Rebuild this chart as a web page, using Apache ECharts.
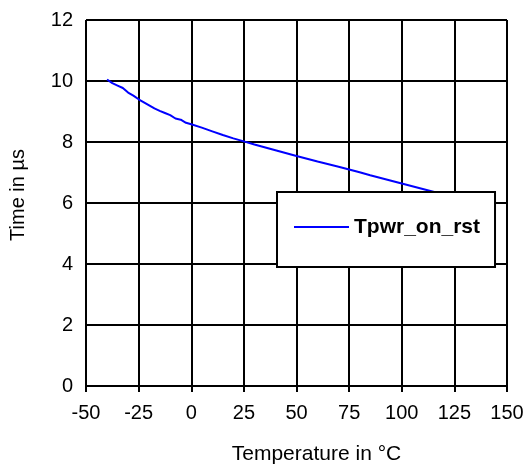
<!DOCTYPE html>
<html>
<head>
<meta charset="utf-8">
<script src="https://cdn.jsdelivr.net/npm/echarts@6/dist/echarts.min.js"></script>
<style>
  html, body { margin: 0; padding: 0; background: #fff; }
  #main { width: 530px; height: 470px; }
</style>
</head>
<body>
<div id="main"></div>
<script>
// temperature in °C
var temps = [-40, -37.5, -35, -32.5, -30, -27.5, -25, -22.5, -20, -17.5, -15, -12.5, -10, -7.5, -5, -2.5,
  0, 5, 10, 15, 20, 25, 30, 40, 50, 60, 70, 75, 80, 85, 90, 95, 100, 110, 120, 125];
// Tpwr_on_rst in µs
var tpwr = [10.05, 9.93, 9.85, 9.77, 9.62, 9.52, 9.40, 9.30, 9.20, 9.10, 9.02, 8.95, 8.88, 8.77, 8.73, 8.63,
  8.58, 8.47, 8.35, 8.23, 8.12, 8.02, 7.92, 7.73, 7.54, 7.36, 7.19, 7.10, 7.01, 6.91, 6.82, 6.73, 6.64, 6.46, 6.28, 6.19];
var seriesName = 'Tpwr_on_rst';

var font = 'Arial, "Liberation Sans", sans-serif';
var points = temps.map(function (t, i) { return [t, tpwr[i]]; });

var myChart = echarts.init(document.getElementById('main'));
myChart.setOption({
  animation: false,
  backgroundColor: '#fff',
  textStyle: { fontFamily: font },
  grid: { left: 84, right: 23, top: 20, bottom: 84 },
  legend: {
    left: 277, top: 192,
    padding: [24, 15, 29, 17],
    icon: 'rect',
    itemWidth: 55, itemHeight: 2,
    backgroundColor: '#fff',
    borderColor: '#000', borderWidth: 2,
    textStyle: { fontSize: 21, fontWeight: 'bold', color: '#000', fontFamily: font, lineHeight: 22 },
    data: [seriesName]
  },
  xAxis: {
    type: 'value', min: -50, max: 150, interval: 25,
    name: 'Temperature in °C', nameLocation: 'middle', nameGap: 58,
    nameTextStyle: { fontSize: 21, color: '#000', padding: [0, 0, 0, 40] },
    axisLine: { lineStyle: { color: '#000', width: 2 } },
    axisTick: { show: true, inside: false, length: 6, lineStyle: { color: '#000', width: 2 } },
    axisLabel: { fontSize: 20, color: '#000', margin: 17 },
    splitLine: { show: true, lineStyle: { color: '#000', width: 2 } }
  },
  yAxis: {
    type: 'value', min: 0, max: 12, interval: 2,
    name: 'Time in µs', nameLocation: 'middle', nameGap: 58,
    nameTextStyle: { fontSize: 20, color: '#000', padding: [0, 0, 0, 16] },
    axisLine: { show: true, lineStyle: { color: '#000', width: 2 } },
    axisTick: { show: true, inside: false, length: 7, lineStyle: { color: '#000', width: 2 } },
    axisLabel: { fontSize: 20, color: '#000', margin: 13 },
    splitLine: { show: true, lineStyle: { color: '#000', width: 2 } }
  },
  series: [{
    name: seriesName,
    type: 'line',
    data: points,
    symbol: 'none',
    smooth: false,
    lineStyle: { color: '#0000ff', width: 2 },
    itemStyle: { color: '#0000ff' }
  }]
});
</script>
</body>
</html>
